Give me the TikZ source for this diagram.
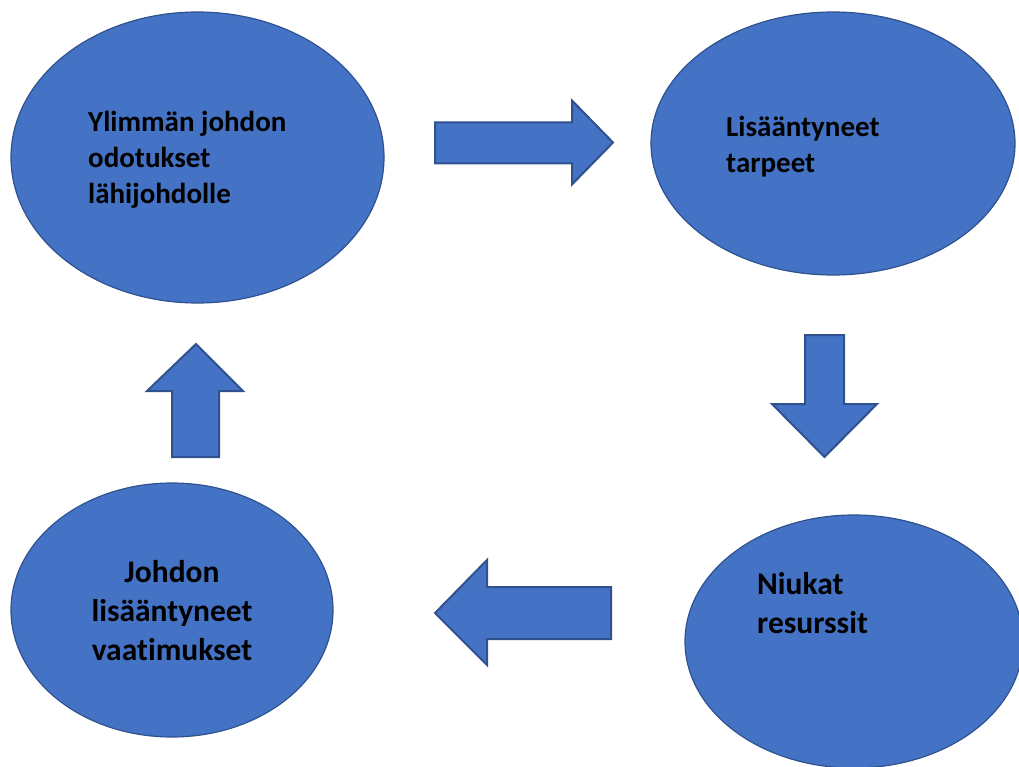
\documentclass[tikz,border=0pt]{standalone}
\usepackage{fontspec}
\setmainfont[Ligatures=NoCommon]{Carlito}
\usetikzlibrary{shapes.geometric}
\definecolor{accentblue}{HTML}{4472C4}
\definecolor{edgeblue}{HTML}{2F528F}
\tikzset{
  oval/.style={ellipse, fill=accentblue, draw=edgeblue, line width=1.2pt, inner sep=0pt},
  blockarrow/.style={fill=accentblue, draw=edgeblue, line width=2pt, line join=miter},
  smalllabel/.style={font=\bfseries\fontsize{29}{36}\selectfont, inner sep=0pt, align=left, text=black},
  biglabel/.style={font=\bfseries\fontsize{31.5}{39}\selectfont, inner sep=0pt, text=black}
}
\begin{document}
\begin{tikzpicture}[x=1pt, y=-1pt]
  \useasboundingbox (0,0) rectangle (1019,767);

  % the four stages of the cycle
  \node[oval, minimum width=373pt, minimum height=291pt] (odotukset) at (197.5,157.5) {};
  \node[oval, minimum width=364pt, minimum height=263pt] (tarpeet) at (833,143.5) {};
  \node[oval, minimum width=338pt, minimum height=253pt] (resurssit) at (854,641.5) {};
  \node[oval, minimum width=322pt, minimum height=254pt] (vaatimukset) at (172,610) {};

  % labels (the base anchor sits on the last line)
  \node[smalllabel, anchor=base west] (t1) at (88,204) {Ylimmän johdon\\odotukset\\lähijohdolle};
  \node[smalllabel, anchor=base west] (t2) at (726,173) {Lisääntyneet\\tarpeet};
  \node[biglabel, align=left, anchor=base west] (t3) at (757,633) {Niukat\\resurssit};
  \node[biglabel, align=center, anchor=base] (t4) at (172,660) {Johdon\\lisääntyneet\\vaatimukset};

  % block arrows between the stages
  \draw[blockarrow] (435,122.5) -- (572,122.5) -- (572,100.5) -- (613,142.5)
     -- (572,184.5) -- (572,163.5) -- (435,163.5) -- cycle;
  \draw[blockarrow] (805,335) -- (844,335) -- (844,404) -- (877,404) -- (824.5,457)
     -- (772,404) -- (805,404) -- cycle;
  \draw[blockarrow] (611,587) -- (487,587) -- (487,560) -- (435,613) -- (487,665)
     -- (487,639) -- (611,639) -- cycle;
  \draw[blockarrow] (172,457) -- (172,391) -- (147,391) -- (196,344) -- (243,391)
     -- (219,391) -- (219,457) -- cycle;
\end{tikzpicture}
\end{document}
